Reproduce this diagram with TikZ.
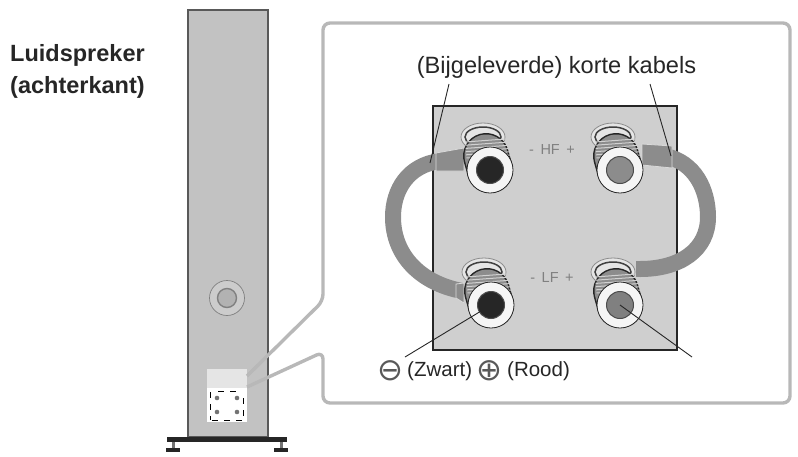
\documentclass[tikz,border=0pt]{standalone}
\usepackage{fontspec}
\setmainfont{Liberation Sans}
\newfontfamily\symfont{DejaVu Sans}
\definecolor{panelgrey}{gray}{0.72}
\definecolor{platefill}{gray}{0.81}
\definecolor{cablegrey}{gray}{0.55}
\definecolor{ink}{gray}{0.15}
\tikzset{leader/.style={draw=ink,line width=0.9pt},
	cable/.style={draw=cablegrey,line width=16pt},
	lug/.style={draw=black!15,line width=0.8pt,fill=cablegrey},
	label/.style={inner sep=0pt,font=\fontsize{20.5}{24}\selectfont,text=ink},
	plateword/.style={inner sep=0pt,font=\fontsize{14.5}{14}\selectfont,text=black!50},
	foot/.style={fill=ink,draw=none},
	tag/.style={draw=black,line width=1pt,dash pattern=on 6pt off 6pt}}

\begin{document}
\begin{tikzpicture}[x=1pt,y=-1pt]
	\useasboundingbox (0,0) rectangle (798,456);

	% speaker column
	\node[draw=black!65,fill=black!24,line width=2pt,minimum width=80pt,minimum height=427pt,inner sep=0pt] (speaker) at (227.5,223.5) {};
	\node[foot,minimum width=120pt,minimum height=5pt,inner sep=0pt] (base) at (227,439.5) {};
	\node[foot,minimum width=14pt,minimum height=4pt,inner sep=0pt] (footl) at (173,450) {};
	\node[foot,minimum width=14pt,minimum height=4pt,inner sep=0pt] (footr) at (281,450) {};
	\path[draw=black!55,line width=3pt] (173,442) -- (footl.north);
	\path[draw=black!55,line width=3pt] (281,442) -- (footr.north);
	\node[circle,draw=black!50,fill=black!20,minimum size=35pt,inner sep=0pt,line width=0.7pt] (port) at (227,298) {};
	\node[circle,draw=black!50,fill=black!30,minimum size=19pt,inner sep=0pt,line width=1.4pt] (portin) at (227,298) {};

	% terminal patch on the column
	\node[fill=black!10,minimum width=40pt,minimum height=20pt,inner sep=0pt] (patch) at (227,379) {};
	\node[fill=white,minimum width=40pt,minimum height=34pt,inner sep=0pt] (tag) at (227,405) {};
	\foreach \x/\y in {217/398,237/398,217/412,237/412}
		\fill[black!55] (\x,\y) circle (2.3);
	\draw[tag] (218,391) -- (240,391);
	\draw[tag] (210,392) -- (210,420);
	\draw[tag] (243,398) -- (243,420);
	\draw[tag] (212,420) -- (242,420);

	% callout frame
	\coordinate (tipa) at (247,376);
	\coordinate (tipb) at (247,387);
	\draw[panelgrey,line width=3.4pt,rounded corners=7pt]
		(tipa) -- (323,301) -- (323,23) -- (790,23) -- (790,403) -- (323,403) -- (323,352) [sharp corners] -- (tipb);

	% plate
	\node[draw=ink,fill=platefill,line width=1.4pt,minimum width=244pt,minimum height=244pt,inner sep=0pt] (plate) at (555,228) {};
	\node[plateword] (hf) at (552,150) {-\, HF\, +};
	\node[plateword] (lf) at (552,278) {-\, LF\, +};

	% cables
	\coordinate (tl) at (490,170);
	\coordinate (tr) at (620,170);
	\coordinate (bl) at (491,305);
	\coordinate (br) at (620,305);
	\draw[cable] (440,161) .. controls (408,165) and (393,190) .. (393,217)
		.. controls (393,255) and (420,283) .. (462,291);
	\draw[cable] (665,156) .. controls (695,162) and (708,190) .. (708,217)
		.. controls (708,250) and (680,269) .. (640,269);
	\draw[lug] (464,148) -- (436,153) -- (436,171) -- (464,171) -- cycle;
	\draw[lug] (672,146) -- (642,144) -- (642,165) -- (672,168) -- cycle;
	\draw[lug] (464,283) -- (456,284) -- (456,298) -- (464,303) -- cycle;
	\fill[cablegrey] (636,261) rectangle (644,277);

	% terminals
	\foreach \name/\x/\y/\core in {tl/490/170/black!85,tr/620/170/black!45,bl/491/305/black!85,br/620/305/black!50}{
		\draw[black!45,fill=black!10,line width=0.8pt] (\x-7,\y-33) ellipse (22 and 14);
		\draw[black!75,line width=1.5pt] (\x-7,\y-33) ellipse (18 and 10);
		\draw[black!85,line width=46pt,line cap=round] (\x-4,\y-14) -- (\x,\y);
		\draw[black!45,line width=43pt,line cap=round] (\x-4,\y-14) -- (\x,\y);
		\foreach \k in {0,...,5}
			\draw[black!18,line width=1pt] (\x-25+\k*0.3,\y-28+\k*3.2) -- (\x+15+\k*1.2,\y-31+\k*3.2);
		\draw[ink,line width=0.8pt,fill=black!4] (\x,\y) circle (23);
		\node[circle,draw=black!70,fill=\core,minimum size=27pt,inner sep=0pt,line width=1pt] (\name core) at (\x,\y) {};
	}

	% labels
	\node[inner sep=0pt,font=\bfseries\fontsize{23.5}{32}\selectfont,align=left,text=ink,anchor=west] (title) at (10,71) {Luidspreker\\(achterkant)};
	\node[label,font=\fontsize{23.6}{26}\selectfont] (cabletext) at (556.5,67) {(Bijgeleverde) korte kabels};
	\node[label,anchor=west] (zwart) at (407,371) {(Zwart)};
	\node[label,anchor=west] (rood) at (507,371) {(Rood)};
	\node[inner sep=0pt,text=black!65,font=\symfont\fontsize{31}{31}\selectfont] (minus) at (390,371) {⊖};
	\node[inner sep=0pt,text=black!65,font=\symfont\fontsize{31}{31}\selectfont] (plus) at (489,371) {⊕};
	\coordinate (leadl) at (449,84);
	\coordinate (leadr) at (650,84);
	\coordinate (leada) at (405,357);
	\coordinate (leadb) at (692,357);

	\path[leader] (leadl) -- (430,163);
	\path[leader] (leadr) -- (671,156);
	\path[leader] (leada) -- (blcore.center);
	\path[leader] (leadb) -- (brcore.center);
\end{tikzpicture}
\end{document}
